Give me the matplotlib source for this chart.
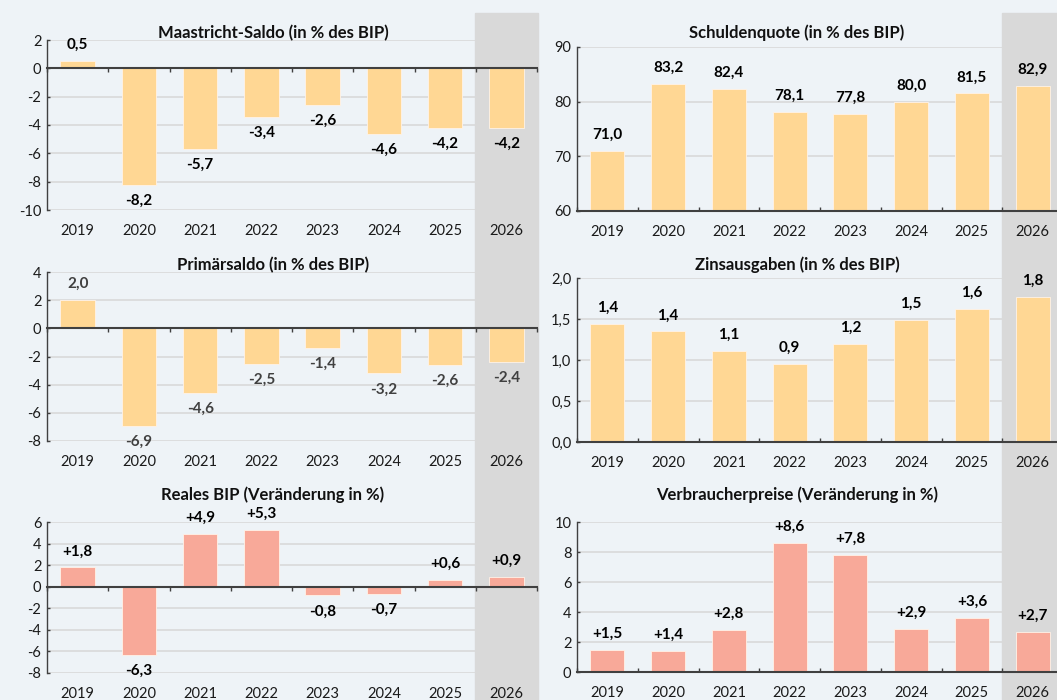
import numpy as np
import matplotlib
matplotlib.use("Agg")
import matplotlib.pyplot as plt
from matplotlib.patches import Rectangle
from matplotlib.ticker import FuncFormatter

plt.rcParams['font.family'] = ['Lato', 'DejaVu Sans']

years = ['2019', '2020', '2021', '2022', '2023', '2024', '2025', '2026']

maastricht = [0.5, -8.2, -5.7, -3.4, -2.6, -4.6, -4.2, -4.2]
schulden = [71.0, 83.2, 82.4, 78.1, 77.8, 80.0, 81.5, 82.9]
primaer = [2.0, -6.9, -4.6, -2.5, -1.4, -3.2, -2.6, -2.4]
zins = [1.44, 1.35, 1.11, 0.95, 1.20, 1.49, 1.62, 1.77]
zins_labels = ['1,4', '1,4', '1,1', '0,9', '1,2', '1,5', '1,6', '1,8']
bip = [1.8, -6.3, 4.9, 5.3, -0.8, -0.7, 0.6, 0.9]
vpi = [1.5, 1.4, 2.8, 8.6, 7.8, 2.9, 3.6, 2.7]

titles = ['Maastricht-Saldo (in % des BIP)', 'Schuldenquote (in % des BIP)',
          'Primärsaldo (in % des BIP)', 'Zinsausgaben (in % des BIP)',
          'Reales BIP (Veränderung in %)', 'Verbraucherpreise (Veränderung in %)']

BG = '#EEF3F7'
GREY = '#D9D9D9'
ORANGE = '#FFD794'
SALMON = '#F8A999'
AX = '#404040'

W, H = 1057, 700
fig = plt.figure(figsize=(W / 100, H / 100), dpi=100, facecolor=BG)


def box(l, t, r, b):
    return [l / W, 1 - b / H, (r - l) / W, (b - t) / H]


# grey forecast bands behind everything
fig.add_artist(Rectangle((475 / W, 0), (538 - 475) / W, (H - 13) / H,
                         transform=fig.transFigure, color=GREY, zorder=-5))
fig.add_artist(Rectangle((1002 / W, 0), (W - 1002) / W, (H - 13) / H,
                         transform=fig.transFigure, color=GREY, zorder=-5))


def fmt(v, sign=False, dec=1):
    s = f"{v:+.{dec}f}" if sign else f"{v:.{dec}f}"
    return s.replace('.', ',')


panels = [
    dict(vals=maastricht, ylim=(-10, 2), step=2, color=ORANGE, pos=(47, 40, 537, 210),
         title_xy=(273, 33), labcol='#000000', sign=False, tickfmt='int'),
    dict(vals=schulden, ylim=(60, 90), step=10, color=ORANGE, pos=(577, 47, 1063, 211),
         title_xy=(797, 33), labcol='#000000', sign=False, tickfmt='int'),
    dict(vals=primaer, ylim=(-8, 4), step=2, color=ORANGE, pos=(47, 272, 537, 441),
         title_xy=(273, 265), labcol='#404040', sign=False, tickfmt='int'),
    dict(vals=zins, ylim=(0, 2), step=0.5, color=ORANGE, pos=(577, 278, 1063, 442),
         title_xy=(797, 265), labcol='#000000', sign=False, tickfmt='dec', labels=zins_labels),
    dict(vals=bip, ylim=(-8, 6), step=2, color=SALMON, pos=(47, 522, 537, 673),
         title_xy=(273, 495), labcol='#000000', sign=True, tickfmt='int'),
    dict(vals=vpi, ylim=(0, 10), step=2, color=SALMON, pos=(577, 522, 1063, 672),
         title_xy=(797, 495), labcol='#000000', sign=True, tickfmt='int'),
]

x = np.arange(len(years))
for p, title in zip(panels, titles):
    ax = fig.add_axes(box(*p['pos']))
    ax.set_facecolor('none')
    lo, hi = p['ylim']
    base = max(lo, 0)
    ax.set_xlim(-0.5, len(years) - 0.5)
    ax.set_ylim(lo, hi)
    yt = np.arange(lo, hi + p['step'] / 2, p['step'])
    ax.set_yticks(yt)
    if p['tickfmt'] == 'dec':
        ax.yaxis.set_major_formatter(FuncFormatter(lambda v, _: f"{v:.1f}".replace('.', ',')))
    else:
        ax.yaxis.set_major_formatter(FuncFormatter(lambda v, _: f"{v:.0f}"))
    for v in yt:
        if v != base:
            ax.axhline(v, color=GREY, lw=1.2, zorder=0.5)
    ax.axvspan(len(years) - 1.5, len(years) - 0.5, color=GREY, zorder=0.8, lw=0)

    vals = np.array(p['vals'])
    ax.bar(x, vals - base, bottom=base, width=0.56, color=p['color'], zorder=2,
           edgecolor='#FFF3E8', linewidth=0.6)

    labels = p.get('labels') or [fmt(v, p['sign']) for v in vals]
    for xi, v, lab in zip(x, vals, labels):
        off = 11.5 if v >= base else -11.5
        ax.annotate(lab, (xi, v), xytext=(0, off), textcoords='offset points',
                    ha='center', va='center', fontsize=11, fontweight='bold',
                    color=p['labcol'], zorder=5)

    for s in ['top', 'right']:
        ax.spines[s].set_visible(False)
    ax.spines['left'].set_color(AX)
    ax.spines['left'].set_linewidth(1.0)
    ax.spines['bottom'].set_position(('data', base))
    ax.spines['bottom'].set_color(AX)
    ax.spines['bottom'].set_linewidth(1.5)
    ax.spines['bottom'].set_zorder(3)

    ax.set_xticks(np.arange(-0.5, len(years), 1.0))
    ax.tick_params(axis='x', direction='in' if base == lo else 'out', length=3,
                   width=1, color=AX, labelbottom=False)
    ax.tick_params(axis='y', direction='in', length=2.5, width=1, color=AX,
                   labelsize=10.5, labelcolor='#1a1a1a', pad=4)

    sec = ax.secondary_xaxis('bottom')
    sec.set_xticks(x, years)
    sec.tick_params(length=0, pad=10, labelsize=10.5, labelcolor='#1a1a1a')
    sec.spines['bottom'].set_visible(False)

    tx, ty = p['title_xy']
    fig.text(tx / W, 1 - ty / H, title, ha='center', va='center', fontsize=12,
             fontweight='bold', color='#111111')

fig.savefig('out.png', dpi=100, facecolor=BG)
